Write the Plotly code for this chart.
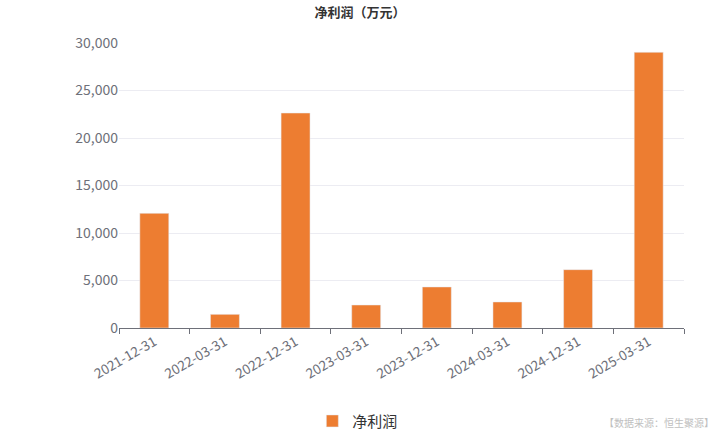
import plotly.graph_objects as go

categories = ["2021-12-31", "2022-03-31", "2022-12-31", "2023-03-31",
              "2023-12-31", "2024-03-31", "2024-12-31", "2025-03-31"]
net_profit = [12070, 1440, 22630, 2420, 4320, 2740, 6140, 29020]
y_ticks = [0, 5000, 10000, 15000, 20000, 25000, 30000]
y_tick_labels = ["0", "5,000", "10,000", "15,000", "20,000", "25,000", "30,000"]

FONT = "Noto Sans CJK SC"

fig = go.Figure()
fig.add_trace(go.Bar(
    x=categories, y=net_profit, name="净利润",
    marker=dict(color="#ED7D31"),
))

fig.update_layout(
    width=720, height=432,
    margin=dict(l=119, r=36, t=43, b=104, autoexpand=False),
    paper_bgcolor="white", plot_bgcolor="white",
    font=dict(family=FONT, color="#6e7079"),
    title=dict(text="<b>净利润（万元）</b>", x=0.5, xanchor="center",
               y=0.972, yanchor="middle",
               font=dict(family=FONT, size=13, color="#333")),
    bargap=0.59,
    showlegend=True,
    legend=dict(orientation="h", xref="container", yref="container",
                x=0.497, xanchor="center", y=0.025, yanchor="middle",
                font=dict(family=FONT, size=15, color="#333"),
                itemwidth=30),
    xaxis=dict(
        type="category", automargin=False,
        showline=True, linecolor="#6e7079", linewidth=1,
        ticks="outside", ticklen=5, tickcolor="#6e7079", tickson="boundaries",
        tickangle=-30, tickfont=dict(size=13.5, color="#6e7079"),
        showgrid=False,
    ),
    yaxis=dict(
        automargin=False,
        range=[0, 30000], tickvals=y_ticks, ticktext=y_tick_labels,
        showgrid=True, gridcolor="#ececf2", gridwidth=1,
        showline=False, zeroline=False, ticks="",
        tickfont=dict(size=14, color="#6e7079"),
    ),
    annotations=[dict(
        text="【数据来源：恒生聚源】", xref="paper", yref="paper",
        x=1.057, y=-0.33, xanchor="right", yanchor="middle", showarrow=False,
        font=dict(family=FONT, size=10, color="#c0c0c0"),
    )],
)

fig.write_html("out.html",
               config={"displayModeBar": False},
               post_script="document.body.style.margin='0px';document.body.style.overflow='hidden';")
